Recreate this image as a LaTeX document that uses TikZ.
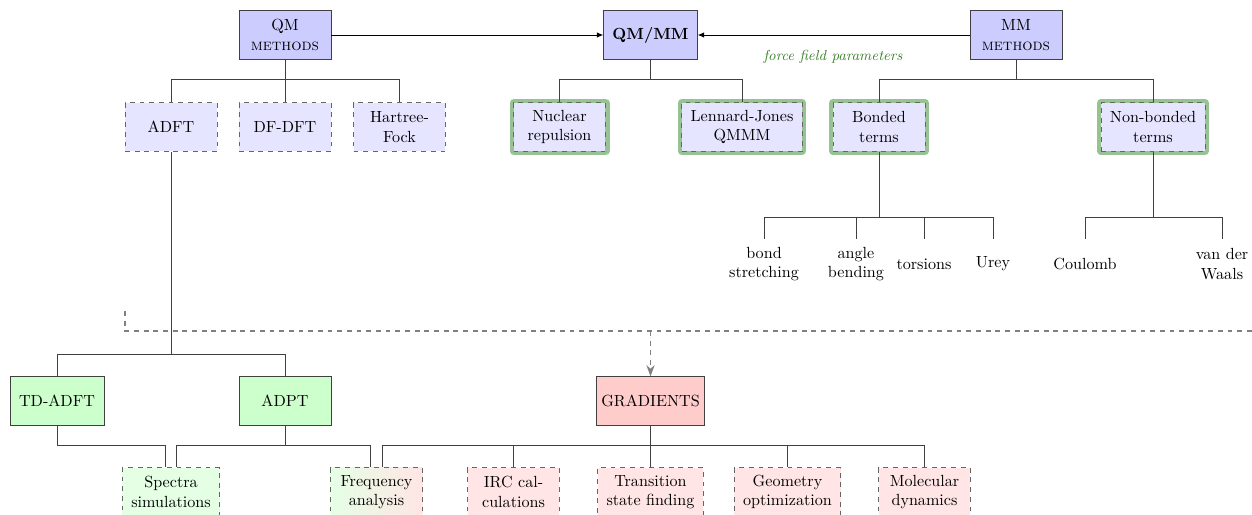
\documentclass[tikz,border=0pt]{standalone}
\usepackage{tikz}
\usetikzlibrary{arrows.meta,positioning}
\usepackage{xcolor}
\definecolor{ffgreen}{RGB}{60,130,45}
\definecolor{ringgreen}{RGB}{150,195,145}

\begin{document}
\begin{tikzpicture}[x=0.62pt,y=-0.62pt]
\tikzstyle{method} = [
	shape=rectangle,
	draw=black!75, %solid border
	fill=blue!20, %fill of the box
	align=center,
	minimum width=57pt,
	minimum height=30pt,
	inner xsep=5.5pt
];
\tikzstyle{option} = [method, draw=black!60, dashed, fill=blue!10];
\tikzstyle{term} = [option, preaction={draw=ringgreen, solid, line width=5pt, line join=round}];
\tikzstyle{leaf} = [shape=rectangle, align=center, minimum height=30pt];
\tikzstyle{branch} = [draw=black!75, line width=0.5pt];
\tikzstyle{flow} = [draw=black!50, dashed, line width=1.2pt];

\useasboundingbox (0,0) rectangle (1252,515);

\begin{scope}[shift={(0,35)}]
	\node[method](QM) at (285,0) {QM\\\textsc{methods}};
	\node[method](QMMM) at (650.5,0) {\textbf{QM/MM}};
	\node[method](MM) at (1016,0) {MM\\\textsc{methods}};
\end{scope}

\node[text=ffgreen, font=\small\itshape](ffp) at (833,57) {force field parameters};

\begin{scope}[shift={(0,127)}]
	\node[option](ADFT) at (171,0) {ADFT};
	\node[option](DFDFT) at (285,0) {DF-DFT};
	\node[option](HF) at (399.5,0) {Hartree-\\Fock};
	\node[term](Nuc) at (559.5,0) {Nuclear\\repulsion};
	\node[term](LJ) at (742,0) {Lennard-Jones\\QMMM};
	\node[term](Bon) at (879,0) {Bonded\\terms};
	\node[term](Nonb) at (1153,0) {Non-bonded\\terms};
\end{scope}

\begin{scope}[shift={(0,264)}]
	\node[leaf](bs) at (764,0) {bond\\stretching};
	\node[leaf](ab) at (856,0) {angle\\bending};
	\node[leaf](tor) at (924,0) {torsions};
	\node[leaf](ur) at (993,0) {Urey};
	\node[leaf](co) at (1085,0) {Coulomb};
	\node[leaf](vdw) at (1222,0) {van der\\Waals};
\end{scope}

\begin{scope}[shift={(0,401)}]
	\node[method, fill=green!20](TD) at (57,0) {TD-ADFT};
	\node[method, fill=green!20](ADPT) at (285,0) {ADPT};
	\node[method, fill=red!20, inner xsep=3pt](Grad) at (650.5,0) {GRADIENTS};
\end{scope}

\begin{scope}[shift={(0,492)}]
	\node[option, fill=green!10](Spec) at (171,0) {Spectra\\simulations};
	\node[option, left color=green!10, right color=red!10](Freq) at (376.5,0) {Frequency\\analysis};
	\node[option, fill=red!10](IRC) at (513.5,0) {IRC cal-\\culations};
	\node[option, fill=red!10](TS) at (650.5,0) {Transition\\state finding};
	\node[option, fill=red!10](Geo) at (787.5,0) {Geometry\\optimization};
	\node[option, fill=red!10](MD) at (924.5,0) {Molecular\\dynamics};
\end{scope}

%coupling
\draw[-{Latex[length=4pt,width=3.5pt]}, line width=0.6pt, color=black]
	(QM) edge[] (QMMM)
	(MM) edge[] (QMMM)
;

%cut between the two parts
\coordinate (cut) at (125,311);
\coordinate (cutend) at (1262,331);
\draw[flow] (cut) |- (cutend);
\draw[flow, -{Stealth[length=7pt,width=5pt]}] (Grad.north |- cutend) -- (Grad.north);

%upper trees
\draw[branch]
	(QM.south) -- ++(0,20) -| (ADFT.north)
	(QM.south) -- (DFDFT.north)
	(QM.south) -- ++(0,20) -| (HF.north)
	(QMMM.south) -- ++(0,20) -| (Nuc.north)
	(QMMM.south) -- ++(0,20) -| (LJ.north)
	(MM.south) -- ++(0,20) -| (Bon.north)
	(MM.south) -- ++(0,20) -| (Nonb.north)
;
\draw[branch]
	(Bon.south) -- ++(0,66) -| (bs.north)
	(Bon.south) -- ++(0,66) -| (ab.north)
	(Bon.south) -- ++(0,66) -| (tor.north)
	(Bon.south) -- ++(0,66) -| (ur.north)
	(Nonb.south) -- ++(0,66) -| (co.north)
	(Nonb.south) -- ++(0,66) -| (vdw.north)
;

%lower trees
\draw[branch]
	(ADFT.south) -- ++(0,203) -| (TD.north)
	(ADFT.south) -- ++(0,203) -| (ADPT.north)
	(TD.south) -- ++(0,20) -| ([xshift=-3.5pt]Spec.north)
	(ADPT.south) -- ++(0,20) -| ([xshift=3.5pt]Spec.north)
	(ADPT.south) -- ++(0,20) -| ([xshift=-3.5pt]Freq.north)
	(Grad.south) -- ++(0,20) -| ([xshift=3.5pt]Freq.north)
	(Grad.south) -- ++(0,20) -| (IRC.north)
	(Grad.south) -- (TS.north)
	(Grad.south) -- ++(0,20) -| (Geo.north)
	(Grad.south) -- ++(0,20) -| (MD.north)
;
\end{tikzpicture}
\end{document}
